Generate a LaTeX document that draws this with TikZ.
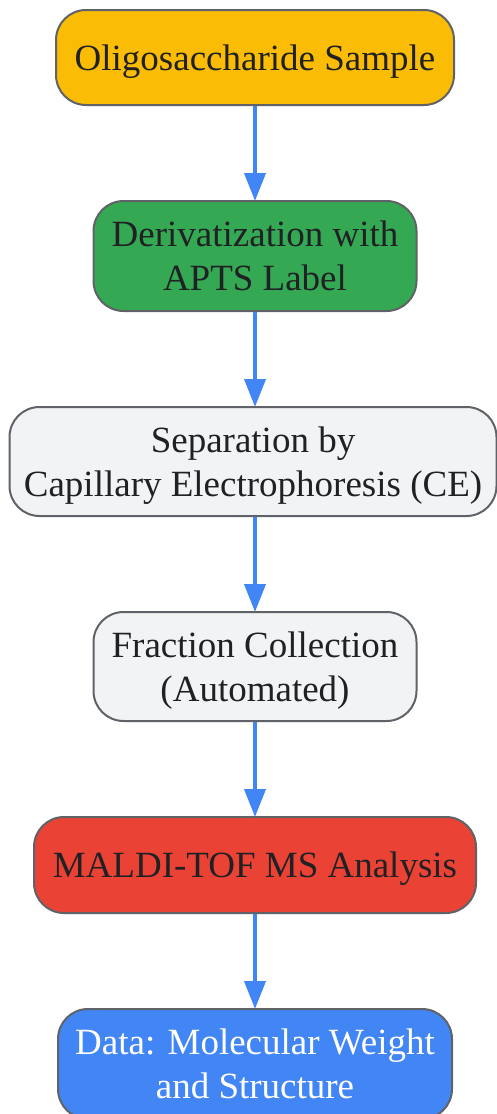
\documentclass[tikz,border=0pt]{standalone}
\usepackage{fontspec}
\setmainfont{Liberation Serif}
\usetikzlibrary{arrows.meta}
\definecolor{cyellow}{HTML}{FBBC05}
\definecolor{cgreen}{HTML}{34A853}
\definecolor{cgray}{HTML}{F1F3F4}
\definecolor{cred}{HTML}{EA4335}
\definecolor{cblue}{HTML}{4285F4}
\definecolor{cborder}{HTML}{5F6368}
\definecolor{ctext}{HTML}{202124}
\begin{document}
\begin{tikzpicture}[x=1pt,y=1pt,
  box/.style={draw=cborder, line width=2pt, rounded corners=30pt, inner sep=0pt,
    align=center, text=ctext, text depth=0pt, font=\fontsize{37}{44}\selectfont},
  flow/.style={draw=cblue, line width=4pt, -{Triangle[length=28pt,width=21pt]}, shorten >=-1pt}]
\useasboundingbox (0,0) rectangle (497,-1114);
\node[box, fill=cyellow, minimum width=398pt, minimum height=95pt] (n1) at (255,-57.5) {Oligosaccharide Sample};
\node[box, fill=cgreen, minimum width=323pt, minimum height=110pt] (n2) at (255,-256) {Derivatization with\\APTS Label};
\node[box, fill=cgray, minimum width=487pt, minimum height=109pt] (n3) at (253,-461.5) {Separation by\\Capillary Electrophoresis (CE)};
\node[box, fill=cgray, minimum width=323pt, minimum height=109pt] (n4) at (255,-666.5) {Fraction Collection\\(Automated)};
\node[box, fill=cred, minimum width=442pt, minimum height=96pt] (n5) at (255,-865) {MALDI-TOF MS Analysis};
\node[box, fill=cblue, text=white, minimum width=394pt, minimum height=110pt] (n6) at (255,-1064) {Data: Molecular Weight\\and Structure};
\draw[flow] (n1.south) -- (n2.north);
\draw[flow] (n2.south) -- (n2.south |- n3.north);
\draw[flow] (n3.south -| n4.north) -- (n4.north);
\draw[flow] (n4.south) -- (n5.north);
\draw[flow] (n5.south) -- (n6.north);
\end{tikzpicture}
\end{document}
